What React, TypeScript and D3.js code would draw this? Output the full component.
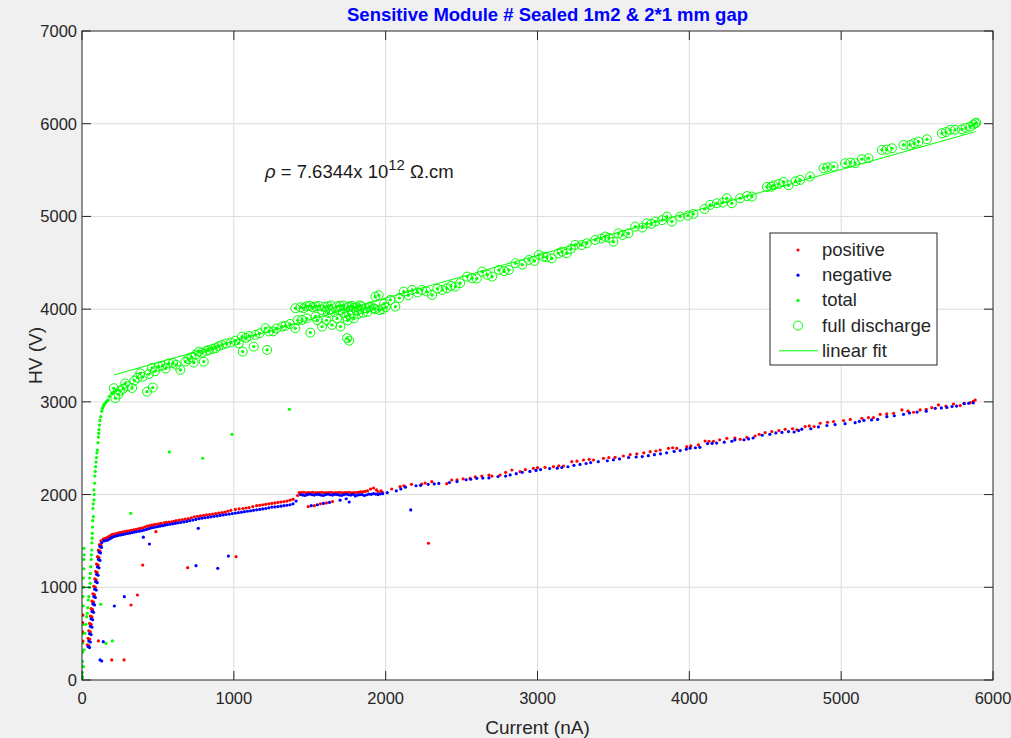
import React, { useEffect, useRef } from 'react'
import * as d3 from 'd3'

// flat [x, y, x, y, ...] lists (x in nA, y in V)
const positiveRaw = [
  3,520, 4,620, 5,700, 6,420,
  35,380, 45,370, 40,450, 50,440, 45,530, 55,520, 50,610, 60,600, 55,690, 65,680, 60,770, 70,760,
  66,850, 76,840, 72,930, 82,920, 78,1010, 88,1000, 84,1090, 94,1080, 90,1170, 100,1160, 96,1250,
  106,1240, 102,1330, 112,1320, 108,1400, 118,1390, 115,1460, 125,1450, 125,1500, 140,1520,
  160,1530, 180,1550, 200,1570, 225,1580, 250,1590, 280,1600, 310,1610, 340,1620, 370,1630, 400,1640,
  430,1660, 460,1670, 490,1680, 520,1690, 555,1700, 590,1705, 620,1720, 660,1730, 700,1740, 740,1760,
  780,1770, 820,1780, 860,1790, 900,1800, 940,1810, 980,1830, 1010,1840, 1060,1850, 1100,1860,
  1150,1880, 1190,1890, 1230,1900, 1270,1910, 1310,1920, 1350,1930, 1390,1950, 1420,1990,
  150,1525, 170,1540, 190,1560, 212,1575, 238,1585, 265,1595, 295,1605, 325,1615, 355,1625, 385,1635,
  415,1650, 445,1665, 475,1675, 505,1685, 540,1695, 572,1702, 605,1712, 640,1725, 680,1735, 720,1750,
  760,1765, 800,1775, 840,1785, 880,1795, 920,1805, 960,1820, 1035,1845, 1080,1855, 1125,1870,
  1170,1885, 1210,1895, 1250,1905, 1290,1915, 1330,1925, 1370,1940,
  1430,2020, 1460,2025, 1490,2020, 1520,2025, 1550,2020, 1580,2025, 1610,2020, 1640,2025, 1670,2020,
  1700,2025, 1730,2020, 1760,2025, 1790,2020, 1820,2025, 1850,2030, 1880,2040, 1900,2060, 1920,2070,
  1950,2030, 1980,2020,
  1445,2022, 1475,2018, 1505,2022, 1535,2018, 1565,2022, 1595,2018, 1625,2022, 1655,2018, 1685,2022,
  1715,2018, 1745,2022, 1775,2018, 1805,2022, 1835,2030, 1865,2035, 1940,2050, 1970,2040,
  1490,1870, 1530,1880, 1570,1900, 1610,1910, 1650,1925,
  2040,2060, 2095,2085, 2170,2110, 2238,2114, 2304,2139, 2402,2118, 2435,2157, 2510,2170, 2556,2175,
  2633,2200, 2700,2200, 2754,2211, 2831,2265, 2885,2247, 2973,2283, 3050,2294, 3105,2301, 3171,2308,
  3226,2355, 3303,2373, 3369,2373, 3435,2391, 3511,2402, 3566,2416, 3654,2438, 3742,2463, 3808,2481,
  3863,2499, 3917,2499, 3983,2517, 4060,2535, 4104,2578, 4159,2575, 4247,2607, 4335,2596, 4379,2617,
  4433,2632, 4499,2668, 4543,2679, 4631,2704, 4708,2699, 4763,2733, 4822,2733, 4862,2769, 4950,2787,
  5016,2798, 5136,2823, 5213,2830, 5257,2866, 5345,2877, 5400,2913, 5477,2888, 5520,2913, 5597,2937,
  5641,2967, 5740,2977, 5784,2960, 5850,2991, 5883,3020,
  2120,2095, 2260,2125, 2470,2160, 2590,2190, 2680,2210, 2790,2240, 2920,2270, 3000,2290, 3140,2310,
  3260,2360, 3340,2380, 3470,2400, 3610,2430, 3700,2450, 3780,2470, 3890,2505, 4010,2525, 4130,2575,
  4200,2590, 4300,2610, 4460,2650, 4590,2690, 4680,2710, 4790,2740, 4910,2780, 5060,2810, 5180,2830,
  5300,2870, 5440,2900, 5560,2920, 5690,2955, 5810,2985, 5870,3005,
  400,1240, 696,1212, 1015,1330, 365,917, 323,809, 277,216, 196,216, 108,421, 487,1600, 2282,1475
]

const negativeRaw = [
  40,360, 50,350, 45,420, 55,410, 50,500, 60,490, 55,580, 65,570, 60,660, 70,650, 66,740, 76,730,
  72,820, 82,810, 78,900, 88,890, 84,980, 94,970, 90,1060, 100,1050, 96,1140, 106,1130, 102,1220,
  112,1210, 108,1300, 118,1290, 112,1380, 122,1370, 118,1440, 128,1430, 130,1480, 145,1500,
  170,1510, 190,1530, 215,1550, 240,1560, 270,1570, 300,1580, 330,1590, 360,1600, 395,1610, 425,1625,
  455,1640, 485,1650, 515,1660, 545,1670, 580,1680, 615,1690, 650,1700, 690,1710, 730,1725, 770,1740,
  810,1750, 850,1760, 890,1770, 930,1780, 970,1790, 1010,1800, 1050,1810, 1090,1820, 1130,1830,
  1170,1840, 1210,1850, 1250,1865, 1290,1870, 1330,1880, 1370,1890, 1410,1930,
  160,1505, 180,1520, 200,1540, 228,1555, 255,1565, 285,1575, 315,1585, 345,1595, 378,1605, 410,1618,
  440,1632, 470,1645, 500,1655, 530,1665, 562,1675, 598,1685, 632,1695, 670,1705, 710,1718, 750,1732,
  790,1745, 830,1755, 870,1765, 910,1775, 950,1785, 990,1795, 1030,1805, 1070,1815, 1110,1825,
  1150,1835, 1190,1845, 1230,1857, 1270,1867, 1310,1875, 1350,1885, 1390,1900,
  1440,2000, 1470,1990, 1500,2005, 1530,1995, 1560,2000, 1590,1990, 1620,2005, 1650,1995, 1680,2000,
  1710,1990, 1740,2005, 1770,1995, 1800,1985, 1830,2000, 1860,1990, 1890,2005, 1920,2010, 1950,2000,
  1980,2010, 2010,2020,
  1455,1995, 1485,2000, 1515,1998, 1545,2003, 1575,1995, 1605,2000, 1635,1998, 1665,2003, 1695,1995,
  1725,2000, 1755,1998, 1785,2003, 1815,1995, 1845,2000, 1875,1998, 1905,2003, 1935,2005, 1965,2008,
  1510,1880, 1550,1890, 1590,1905, 1630,1915, 1700,1940, 1740,1955, 1760,1920,
  2070,2040, 2130,2080, 2200,2095, 2280,2110, 2350,2120, 2470,2140, 2530,2160, 2600,2175, 2680,2180,
  2790,2200, 2860,2225, 2950,2250, 3020,2270, 3130,2285, 3200,2300, 3280,2325, 3350,2345, 3460,2365,
  3540,2385, 3600,2400, 3690,2410, 3770,2430, 3850,2450, 3940,2475, 4005,2500, 4070,2510, 4120,2550,
  4180,2555, 4280,2575, 4300,2590, 4360,2590, 4420,2610, 4530,2650, 4570,2665, 4653,2680, 4690,2675,
  4741,2705, 4800,2710, 4906,2745, 5026,2765, 5092,2775, 5150,2800, 5240,2810, 5301,2840, 5411,2865,
  5450,2880, 5560,2900, 5620,2930, 5696,2940, 5760,2955, 5810,2980, 5870,2990,
  2100,2060, 2230,2100, 2320,2115, 2420,2130, 2560,2165, 2640,2178, 2740,2195, 2820,2212, 2900,2240,
  2990,2260, 3080,2280, 3160,2292, 3240,2315, 3320,2335, 3400,2355, 3500,2375, 3650,2405, 3730,2420,
  3810,2440, 3900,2465, 3980,2490, 4040,2505, 4150,2552, 4230,2565, 4390,2600, 4480,2640, 4610,2670,
  4720,2690, 4850,2730, 4960,2755, 5120,2790, 5200,2805, 5350,2850, 5500,2890, 5660,2935, 5730,2950,
  5840,2985,
  2165,1834, 751,1233, 894,1204, 964,1337, 444,1467, 279,899, 213,798, 119,216, 130,205, 140,413,
  766,1636, 404,1540
]

const totalRaw = [
  2,80, 3,200, 5,400, 6,600, 8,800, 10,1000, 12,1200, 14,1350,
  1,20, 2,150, 3,300, 4,500, 6,700, 7,900, 9,1100, 11,1300, 13,1420,
  4,36, 9,144, 13,324, 20,504, 31,683, 42,863, 53,1043, 57,1222, 64,1402, 68,1582, 75,1762, 79,1942,
  83,2122, 90,2301, 101,2481, 110,2661, 123,2840, 152,2985, 173,3020,
  35,720, 45,900, 50,1100, 60,1300, 65,1480, 70,1650, 72,1850, 78,2050, 85,2200, 95,2400, 105,2560,
  115,2750, 130,2900, 140,2950, 160,3000, 180,3060, 195,3090, 210,3110, 230,3130,
  25,600, 38,780, 48,1000, 55,1150, 62,1350, 67,1530, 71,1720, 74,1900, 80,2000, 87,2250, 92,2350,
  98,2450, 108,2620, 112,2700, 118,2800, 135,2930, 145,2970, 165,3010,
  1366,2920, 988,2650, 575,2460, 795,2392, 321,1798, 123,817, 200,421, 158,396, 260,1570
]

const fullDischargeRaw = [
  220,3040, 209,3147, 285,3200, 330,3150, 250,3120, 384,3308, 428,3110, 466,3155, 461,3366, 505,3380,
  571,3415, 648,3344, 681,3434, 736,3423, 802,3434, 769,3542, 835,3560, 880,3580, 922,3614, 1032,3632,
  1054,3704, 1059,3542, 1142,3722, 1131,3596, 1208,3794, 1219,3560, 1260,3760, 1318,3812, 1405,3794,
  1405,4010, 1449,3884, 1504,3747, 1537,3919, 1581,3812, 1647,3830, 1702,3812, 1746,3686, 1760,3660,
  240,3080, 270,3140, 300,3170, 345,3230, 365,3260, 400,3270, 440,3300, 480,3330, 530,3390, 550,3360,
  600,3420, 620,3400, 700,3460, 720,3480, 750,3510, 790,3530, 820,3550, 860,3570, 900,3600, 950,3630,
  980,3640, 1010,3660, 1080,3690, 1100,3710, 1170,3740, 1230,3760, 1280,3790, 1340,3820, 1370,3840,
  1420,3880, 1480,3900, 1550,3880, 1610,3880, 1680,3900, 1740,3920, 1820,3950, 1880,3970,
  1440,4020, 1480,4030, 1520,4020, 1560,4035, 1600,4025, 1640,4040, 1680,4030, 1720,4040, 1750,4020,
  1780,4035, 1810,4020, 1840,4030, 1870,4010, 1900,4030, 1930,4000, 1960,3990, 1720,3960, 1760,3940,
  1790,3900, 1750,3880, 1810,3980, 1850,3960, 1700,3990, 1660,3970, 1620,3960, 1580,3990,
  1460,4010, 1500,4035, 1540,4030, 1620,4030, 1700,4035, 1760,4030, 1790,4015, 1830,4040, 1890,4020,
  1920,4010, 1980,4000, 2000,4020,
  1932,4135, 1954,4150, 2064,4027, 2119,4189, 2174,4207, 2240,4207, 2306,4153, 2372,4207, 2404,4225,
  2459,4243, 2536,4351, 2569,4333, 2635,4405, 2701,4351, 2745,4423, 2811,4423, 2855,4495, 2943,4531,
  3008,4585, 3039,4566, 3094,4548, 3138,4602, 3193,4602, 3248,4693, 3325,4710, 3380,4747, 3445,4783,
  3500,4728, 3533,4818, 3599,4818, 3643,4890, 3720,4926, 3775,4944, 3852,4998, 3885,4944, 3940,4998,
  4027,5027, 4137,5124, 4181,5142, 4247,5196, 4280,5142, 4335,5196, 4412,5214, 4511,5318, 4554,5336,
  4620,5372, 4653,5336, 4730,5394, 4796,5430, 4884,5520, 4950,5538, 5026,5574, 5092,5574, 5136,5617,
  5180,5628, 5268,5717, 5334,5735, 5410,5771, 5454,5771, 5509,5807, 5565,5832, 5663,5897, 5718,5933,
  5795,5940, 5850,5969, 5883,6004, 5870,5990, 5890,6010,
  1990,4060, 2030,4100, 2090,4120, 2150,4150, 2210,4180, 2270,4190, 2340,4220, 2430,4250, 2490,4280,
  2600,4330, 2670,4370, 2780,4410, 2900,4480, 2980,4520, 3060,4560, 3160,4620, 3220,4650, 3290,4690,
  3420,4760, 3470,4770, 3560,4800, 3690,4880, 3750,4920, 3820,4960, 3990,5010, 4100,5080, 4220,5150,
  4380,5220, 4540,5320, 4590,5350, 4700,5380, 4910,5530, 5060,5580, 5300,5720, 5480,5790, 5690,5910,
  5750,5935, 5820,5955
]

const fitLine = [[210, 3290], [5885, 5915]]

const xTicks = [0, 1000, 2000, 3000, 4000, 5000, 6000]
const yTicks = [0, 1000, 2000, 3000, 4000, 5000, 6000, 7000]
const legendItems = ['positive', 'negative', 'total', 'full discharge', 'linear fit']

function pairs(raw: number[]) {
  const out: [number, number][] = []
  for (let i = 0; i < raw.length; i += 2) out.push([raw[i], raw[i + 1]])
  return out
}

const W = 1011, H = 738
const left = 82, right = 993, top = 31, bottom = 680
const FONT = '"Liberation Sans", Arial, Helvetica, sans-serif'
const AXIS = '#262626'

function Chart() {
  const node = useRef<SVGSVGElement>(null)

  useEffect(() => {
    const svg = d3.select(node.current)
    svg.selectAll('*').remove()

    const x = d3.scaleLinear().domain([0, 6000]).range([left, right])
    const y = d3.scaleLinear().domain([0, 7000]).range([bottom, top])

    svg.append('rect').attr('width', W).attr('height', H).attr('fill', '#f0f0f0')
    svg.append('rect').attr('x', left).attr('y', top)
      .attr('width', right - left).attr('height', bottom - top).attr('fill', '#ffffff')

    // grid
    const grid = svg.append('g').attr('stroke', '#dcdcdc').attr('stroke-width', 1)
    xTicks.slice(1, -1).forEach(t => {
      grid.append('line').attr('x1', x(t)).attr('x2', x(t)).attr('y1', top).attr('y2', bottom)
    })
    yTicks.slice(1, -1).forEach(t => {
      grid.append('line').attr('x1', left).attr('x2', right).attr('y1', y(t)).attr('y2', y(t))
    })

    const clip = svg.append('clipPath').attr('id', 'plotClip')
    clip.append('rect').attr('x', left).attr('y', top).attr('width', right - left).attr('height', bottom - top)
    const plot = svg.append('g').attr('clip-path', 'url(#plotClip)')

    // full discharge circles
    plot.append('g').selectAll('circle').data(pairs(fullDischargeRaw)).enter()
      .append('circle')
      .attr('cx', d => x(d[0])).attr('cy', d => y(d[1])).attr('r', 4.5)
      .attr('fill', 'none').attr('stroke', '#00ff00').attr('stroke-width', 1)

    const dots = (data: [number, number][], color: string) => {
      plot.append('g').selectAll('circle').data(data).enter()
        .append('circle')
        .attr('cx', d => x(d[0])).attr('cy', d => y(d[1])).attr('r', 1.6)
        .attr('fill', color)
    }
    dots(pairs(totalRaw).concat(pairs(fullDischargeRaw)), '#00ff00')
    dots(pairs(positiveRaw), '#ff0000')
    dots(pairs(negativeRaw), '#0000ff')

    const line = d3.line<number[]>().x(d => x(d[0])).y(d => y(d[1]))
    plot.append('path').attr('d', line(fitLine)).attr('fill', 'none')
      .attr('stroke', '#00ff00').attr('stroke-width', 1)

    // axes box and ticks
    const ax = svg.append('g').attr('stroke', AXIS).attr('stroke-width', 1)
    ax.append('rect').attr('x', left).attr('y', top).attr('width', right - left).attr('height', bottom - top)
      .attr('fill', 'none')
    const tl = 9
    xTicks.forEach(t => {
      ax.append('line').attr('x1', x(t)).attr('x2', x(t)).attr('y1', bottom).attr('y2', bottom - tl)
      ax.append('line').attr('x1', x(t)).attr('x2', x(t)).attr('y1', top).attr('y2', top + tl)
    })
    yTicks.forEach(t => {
      ax.append('line').attr('x1', left).attr('x2', left + tl).attr('y1', y(t)).attr('y2', y(t))
      ax.append('line').attr('x1', right).attr('x2', right - tl).attr('y1', y(t)).attr('y2', y(t))
    })

    const txt = svg.append('g').attr('font-family', FONT).attr('fill', AXIS)
    xTicks.forEach(t => {
      txt.append('text').attr('x', x(t)).attr('y', bottom + 24).attr('text-anchor', 'middle')
        .attr('font-size', 16.5).text(t)
    })
    yTicks.forEach(t => {
      txt.append('text').attr('x', left - 5).attr('y', y(t) + 6).attr('text-anchor', 'end')
        .attr('font-size', 16.5).text(t)
    })
    txt.append('text').attr('x', (left + right) / 2).attr('y', 734).attr('text-anchor', 'middle')
      .attr('font-size', 19).text('Current (nA)')
    txt.append('text').attr('transform', `translate(42,${(top + bottom) / 2}) rotate(-90)`)
      .attr('text-anchor', 'middle').attr('font-size', 19).text('HV (V)')

    svg.append('text').attr('x', (left + right) / 2 + 10).attr('y', 21).attr('text-anchor', 'middle')
      .attr('font-family', FONT).attr('font-weight', 'bold').attr('font-size', 18.5)
      .attr('fill', '#0000ff').text('Sensitive Module # Sealed 1m2 & 2*1 mm gap')

    // annotation
    const ann = svg.append('text').attr('x', 265).attr('y', 178)
      .attr('font-family', FONT).attr('font-size', 18.5).attr('fill', '#1a1a1a')
    ann.append('tspan').attr('font-style', 'italic').text('\u03c1')
    ann.append('tspan').text(' = 7.6344x 10')
    ann.append('tspan').attr('dy', -8).attr('font-size', 15).text('12')
    ann.append('tspan').attr('dy', 8).text(' \u03a9.cm')

    // legend
    const lg = svg.append('g').attr('font-family', FONT)
    lg.append('rect').attr('x', 770).attr('y', 233).attr('width', 167).attr('height', 132)
      .attr('fill', '#ffffff').attr('stroke', AXIS).attr('stroke-width', 1)
    const colors = ['#ff0000', '#0000ff', '#00ff00']
    legendItems.forEach((name, i) => {
      const cy = 250 + i * 25.2
      if (i < 3) {
        lg.append('circle').attr('cx', 798).attr('cy', cy).attr('r', 1.6).attr('fill', colors[i])
      } else if (i === 3) {
        lg.append('circle').attr('cx', 798).attr('cy', cy).attr('r', 4.5)
          .attr('fill', 'none').attr('stroke', '#00ff00')
      } else {
        lg.append('line').attr('x1', 779).attr('x2', 818).attr('y1', cy).attr('y2', cy)
          .attr('stroke', '#00ff00')
      }
      lg.append('text').attr('x', 822).attr('y', cy + 6).attr('font-size', 18.5)
        .attr('fill', AXIS).text(name)
    })
  }, [])

  return <svg ref={node} width={W} height={H} style={{ position: 'absolute', left: 0, top: 0 }} />
}

export default function App() {
  return <Chart />
}
